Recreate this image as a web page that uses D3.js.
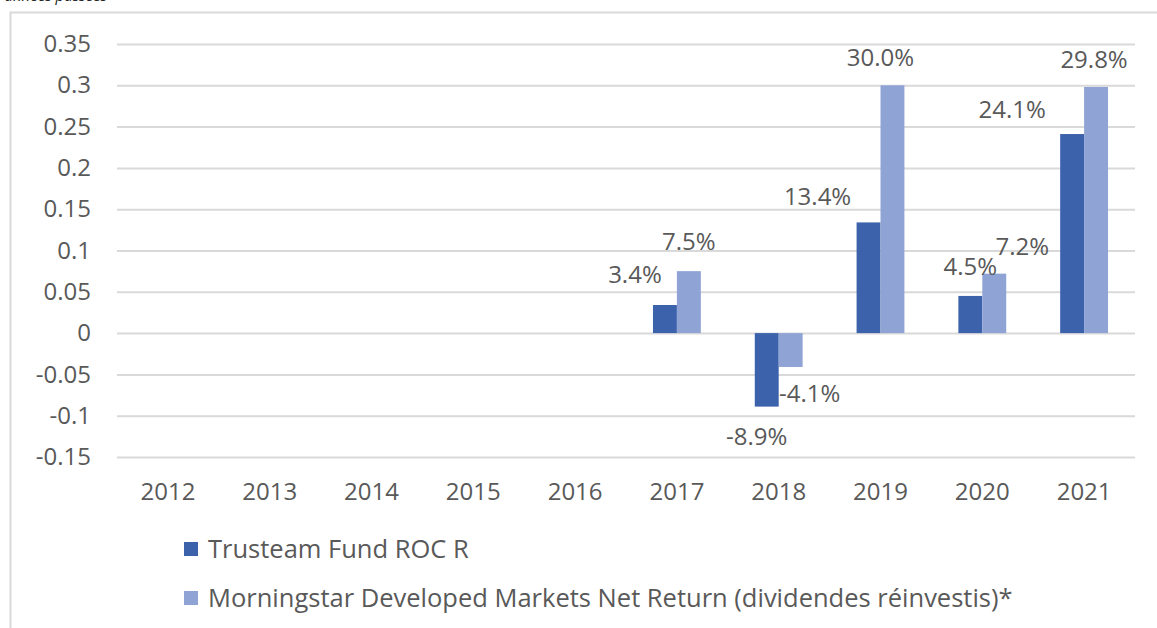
<!DOCTYPE html>
<html>
<head>
<meta charset="utf-8">
<script src="https://cdn.jsdelivr.net/npm/d3@7"></script>
<style>
  html, body { margin: 0; padding: 0; background: #fff; }
  svg { display: block; font-family: "Open Sans", "Noto Sans", sans-serif; }
</style>
</head>
<body>
<div id="chart"></div>
<script>
// chart data
const years = ["2012", "2013", "2014", "2015", "2016", "2017", "2018", "2019", "2020", "2021"]
const fundValues = [null, null, null, null, null, 0.034, -0.089, 0.134, 0.045, 0.241]
const indexValues = [null, null, null, null, null, 0.075, -0.041, 0.300, 0.072, 0.298]
const seriesNames = ["Trusteam Fund ROC R", "Morningstar Developed Markets Net Return (dividendes réinvestis)*"]
const yTicks = [0.35, 0.3, 0.25, 0.2, 0.15, 0.1, 0.05, 0, -0.05, -0.1, -0.15]

// label nudges (px) to mimic the hand-moved labels of the original
const fundLabelDx = [0, 0, 0, 0, 0, -30, -10, -51, 0, -60]
const fundLabelDy = [0, 0, 0, 0, 0, -2, 2, 3, -1, 4]
const indexLabelDx = [0, 0, 0, 0, 0, 0, 19, -12, 28, -2]
const indexLabelDy = [0, 0, 0, 0, 0, -1, -1, 1, 1, 1]

const width = 1157
const height = 628
const marginLeft = 117
const marginRight = 22        // plot ends at x = 1135
const plotTop = 44
const plotBottom = 457
const colors = ["#3b62ab", "#8fa3d4"]
const textColor = "#595959"
const gridColor = "#d9d9d9"

const svg = d3.select("#chart")
    .append("svg")
    .attr("width", width)
    .attr("height", height)
    .attr("viewBox", [0, 0, width, height])

// clipped caption at the very top (from the source document)
svg.append("text")
    .attr("x", 107)
    .attr("y", 1)
    .attr("text-anchor", "end")
    .attr("font-style", "italic")
    .attr("font-size", 15)
    .attr("fill", "#222")
    .text("Performances des années passées")

// outer frame
svg.append("rect")
    .attr("x", 10.5)
    .attr("y", 12.5)
    .attr("width", width + 20)
    .attr("height", height + 20)
    .attr("fill", "none")
    .attr("stroke", gridColor)
    .attr("stroke-width", 2)

const x = d3.scaleBand(years, [marginLeft, width - marginRight])
const y = d3.scaleLinear([-0.15, 0.35], [plotBottom, plotTop])
const groupW = x.step() * 0.47
const x1 = d3.scaleBand([0, 1], [0, groupW])
const pct = v => d3.format(".1%")(v).replace("\u2212", "-")

// grid + y labels
const yAxis = d3.axisLeft(y).tickValues(yTicks).tickSize(0).tickPadding(26)
    .tickFormat(d => String(+d.toFixed(2)))
svg.append("g")
    .attr("transform", `translate(${marginLeft},0)`)
    .call(yAxis)
    .call(g => g.select(".domain").remove())
    .call(g => g.selectAll(".tick line").clone()
        .attr("x2", width - marginLeft - marginRight)
        .attr("stroke", gridColor)
        .attr("stroke-width", 2))
    .call(g => g.selectAll(".tick text")
        .attr("fill", textColor)
        .attr("font-size", 24)
        .attr("font-family", "Open Sans"))

// x labels
const xAxis = d3.axisBottom(x).tickSize(0).tickPadding(0)
svg.append("g")
    .attr("transform", `translate(0,${plotBottom})`)
    .call(xAxis)
    .call(g => g.select(".domain").remove())
    .call(g => g.selectAll(".tick text")
        .attr("y", 43)
        .attr("dy", 0)
        .attr("fill", textColor)
        .attr("font-size", 24)
        .attr("font-family", "Open Sans"))

// bars
const rows = []
years.forEach((yr, i) => {
    if (fundValues[i] != null) rows.push({year: yr, s: 0, v: fundValues[i], dx: fundLabelDx[i], dy: fundLabelDy[i]})
    if (indexValues[i] != null) rows.push({year: yr, s: 1, v: indexValues[i], dx: indexLabelDx[i], dy: indexLabelDy[i]})
})

const xPos = d => x(d.year) + (x.step() - groupW) / 2 + x1(d.s)

svg.append("g")
    .selectAll("rect")
    .data(rows)
    .join("rect")
    .attr("x", d => xPos(d))
    .attr("y", d => Math.min(y(d.v), y(0)))
    .attr("width", x1.bandwidth())
    .attr("height", d => Math.abs(y(d.v) - y(0)))
    .attr("fill", d => colors[d.s])

// data labels
svg.append("g")
    .selectAll("text")
    .data(rows)
    .join("text")
    .attr("x", d => xPos(d) + x1.bandwidth() / 2 + d.dx)
    .attr("y", d => (d.v >= 0 ? y(d.v) - 20 : y(d.v) + 36) + d.dy)
    .attr("text-anchor", "middle")
    .attr("fill", textColor)
    .attr("font-size", 24)
    .text(d => pct(d.v))

// legend
const legend = svg.append("g")
    .selectAll("g")
    .data(seriesNames)
    .join("g")
    .attr("transform", (d, i) => `translate(184,${542 + i * 49})`)
legend.append("rect")
    .attr("width", 14)
    .attr("height", 14)
    .attr("fill", (d, i) => colors[i])
legend.append("text")
    .attr("x", 24)
    .attr("y", 16)
    .attr("fill", textColor)
    .attr("font-size", 25.5)
    .text(d => d)
</script>
</body>
</html>
